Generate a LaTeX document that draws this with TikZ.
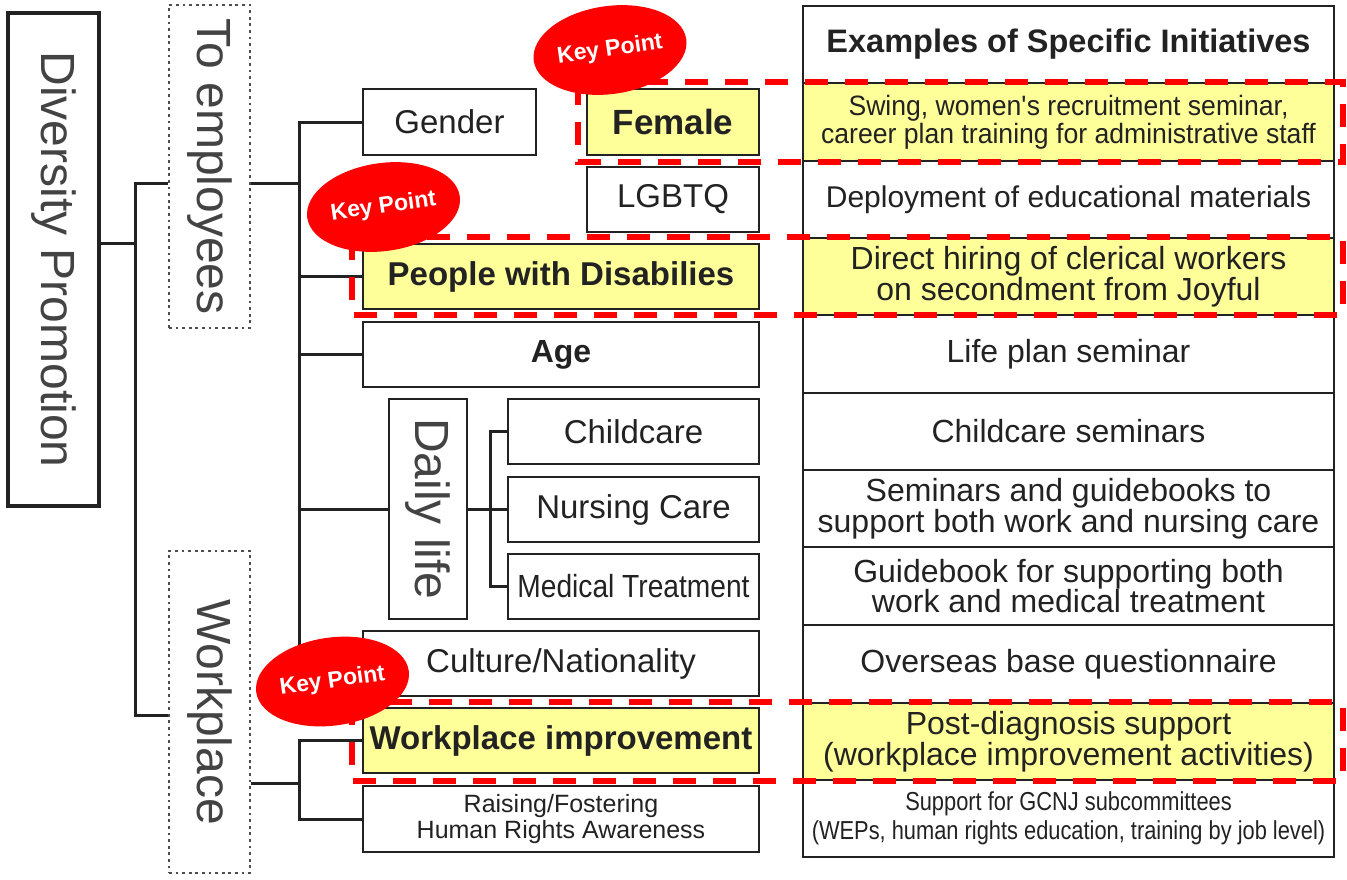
\documentclass[tikz,border=0pt]{standalone}
\usepackage{fontspec}
\usepackage{graphicx}
\setmainfont{Liberation Sans}
\newfontfamily\narrowfont[FakeStretch=0.84]{Liberation Sans}
\newfontfamily\semifont[FakeStretch=0.95]{Liberation Sans}
\newfontfamily\medfont[FakeStretch=0.88]{Liberation Sans}
\usetikzlibrary{shapes.geometric}
\definecolor{hl}{RGB}{255,255,153}
\definecolor{ink}{RGB}{34,34,34}
\definecolor{kpred}{RGB}{255,0,0}
\begin{document}
\begin{tikzpicture}[x=1pt,y=-1pt,
  box/.style={draw=ink, line width=1.9pt, inner sep=0pt, text=ink, align=center, font=\fontsize{33}{38}\selectfont},
  hbox/.style={box, fill=hl, font=\bfseries\fontsize{33}{38}\selectfont},
  vbox/.style={box, text=ink!85, font=\fontsize{48}{54}\selectfont},
  dotbox/.style={vbox, draw=ink!80, line width=2.8pt, dash pattern=on 2.8pt off 3.8pt},
  cell/.style={draw=ink, line width=1.9pt, inner sep=0pt, text=ink, minimum width=531, align=center, font=\fontsize{32}{29}\selectfont},
  hcell/.style={cell, fill=hl},
  conn/.style={draw=ink, line width=3pt},
  kpframe/.style={draw=kpred, line width=6pt, dash pattern=on 23pt off 17pt},
  keypt/.style={ellipse, fill=kpred, draw=none, text=white, inner sep=0pt, minimum width=154, minimum height=88, rotate=8, font=\bfseries\fontsize{23}{26}\selectfont}
]
\fill[white] (0,0) rectangle (1347,879);
\useasboundingbox (0,0) rectangle (1347,879);

% right table
\node[cell, minimum height=77, font=\bfseries\fontsize{32.5}{36}\selectfont] (h0) at (1068.5,44.5) {Examples of Specific Initiatives};
\node[hcell, minimum height=78, font=\semifont\fontsize{28}{28}\selectfont] (r1) at (1068.5,122) {Swing, women\textquotesingle s recruitment seminar,\\career plan training for administrative staff};
\node[cell, minimum height=77, font=\fontsize{30}{29}\selectfont] (r2) at (1068.5,199.5) {Deployment of educational materials};
\node[hcell, minimum height=77] (r3) at (1068.5,276.5) {Direct hiring of clerical workers\\on secondment from Joyful};
\node[cell, minimum height=78] (r4) at (1068.5,354) {Life plan seminar};
\node[cell, minimum height=77] (r5) at (1068.5,431.5) {Childcare seminars};
\node[cell, minimum height=77] (r6) at (1068.5,508.5) {Seminars and guidebooks to\\support both work and nursing care};
\node[cell, minimum height=78] (r7) at (1068.5,586) {Guidebook for supporting both\\work and medical treatment};
\node[cell, minimum height=78] (r8) at (1068.5,664) {Overseas base questionnaire};
\node[hcell, minimum height=77] (r9) at (1068.5,741.5) {Post-diagnosis support\\(workplace improvement activities)};
\node[cell, minimum height=77, font=\narrowfont\fontsize{26}{29}\selectfont] (r10) at (1068.5,818.5) {Support for GCNJ subcommittees\\(WEPs, human rights education, training by job level)};

% left tree
\node[vbox, line width=3.5pt, minimum width=91, minimum height=493] (div) at (53.5,259.5) {\rotatebox{-90}{Diversity Promotion}};
\node[dotbox, minimum width=81, minimum height=323] (emp) at (209.5,166.5) {\rotatebox{-90}{To employees}};
\node[dotbox, minimum width=81, minimum height=322] (wp) at (209.5,712) {\rotatebox{-90}{Workplace}};

\node[box, minimum width=173, minimum height=66] (gender) at (449.5,122) {Gender};
\node[hbox, minimum width=172, minimum height=66, font=\bfseries\fontsize{35}{38}\selectfont] (female) at (673,122) {Female};
\node[box, minimum width=172, minimum height=65] (lgbtq) at (673,199.5) {LGBTQ};
\node[hbox, minimum width=396, minimum height=65] (pwd) at (561,276.5) {People with Disabilies};
\node[box, minimum width=396, minimum height=65, font=\bfseries\fontsize{32}{38}\selectfont] (age) at (561,354.5) {Age};
\node[vbox, minimum width=78, minimum height=220] (daily) at (428,509) {\rotatebox{-90}{Daily life}};
\node[box, minimum width=251, minimum height=65] (child) at (633.5,431.5) {Childcare};
\node[box, minimum width=251, minimum height=65] (nurse) at (633.5,509.5) {Nursing Care};
\node[box, minimum width=251, minimum height=65, font=\medfont\fontsize{32}{38}\selectfont] (med) at (633.5,586.5) {Medical Treatment};
\node[box, minimum width=396, minimum height=65] (culture) at (561,663.5) {Culture/Nationality};
\node[hbox, minimum width=396, minimum height=65] (wi) at (561,740.5) {Workplace improvement};
\node[box, minimum width=396, minimum height=66, font=\fontsize{25}{26}\selectfont] (raise) at (561,819) {Raising/Fostering\\Human Rights Awareness};

% connectors
\coordinate (j1) at (135,243);
\coordinate (j1a) at (135,183);
\coordinate (j1b) at (135,715);
\coordinate (t0) at (299,183);
\coordinate (w0) at (299,783);
\coordinate (d0) at (490,509);
\draw[conn] (div.east |- j1) -- (j1);
\draw[conn] (emp.west |- j1a) -- (j1a) -- (j1b) -- (wp.west |- j1b);
\draw[conn] (emp.east |- t0) -- (t0);
\draw[conn] (gender.west) -- (gender.west -| t0) -- (culture.west -| t0) -- (culture.west);
\draw[conn] (pwd.west -| t0) -- (pwd.west);
\draw[conn] (age.west -| t0) -- (age.west);
\draw[conn] (daily.west -| t0) -- (daily.west);
\draw[conn] (daily.east) -- (d0);
\draw[conn] (child.west) -- (child.west -| d0) -- (med.west -| d0) -- (med.west);
\draw[conn] (nurse.west -| d0) -- (nurse.west);
\draw[conn] (wp.east |- w0) -- (w0);
\draw[conn] (wi.west) -- (wi.west -| w0) -- (raise.west -| w0) -- (raise.west);

% key point frames
\draw[kpframe] (578,82) rectangle (1343,162);
\draw[kpframe] (352,237) rectangle (1343,315);
\draw[kpframe] (352,702) rectangle (1343,781);

% key point ellipses
\node[keypt] (kp1) at (610,50) {Key Point};
\node[keypt] (kp2) at (383.5,207) {Key Point};
\node[keypt] (kp3) at (332.5,681.5) {Key Point};
\end{tikzpicture}
\end{document}
